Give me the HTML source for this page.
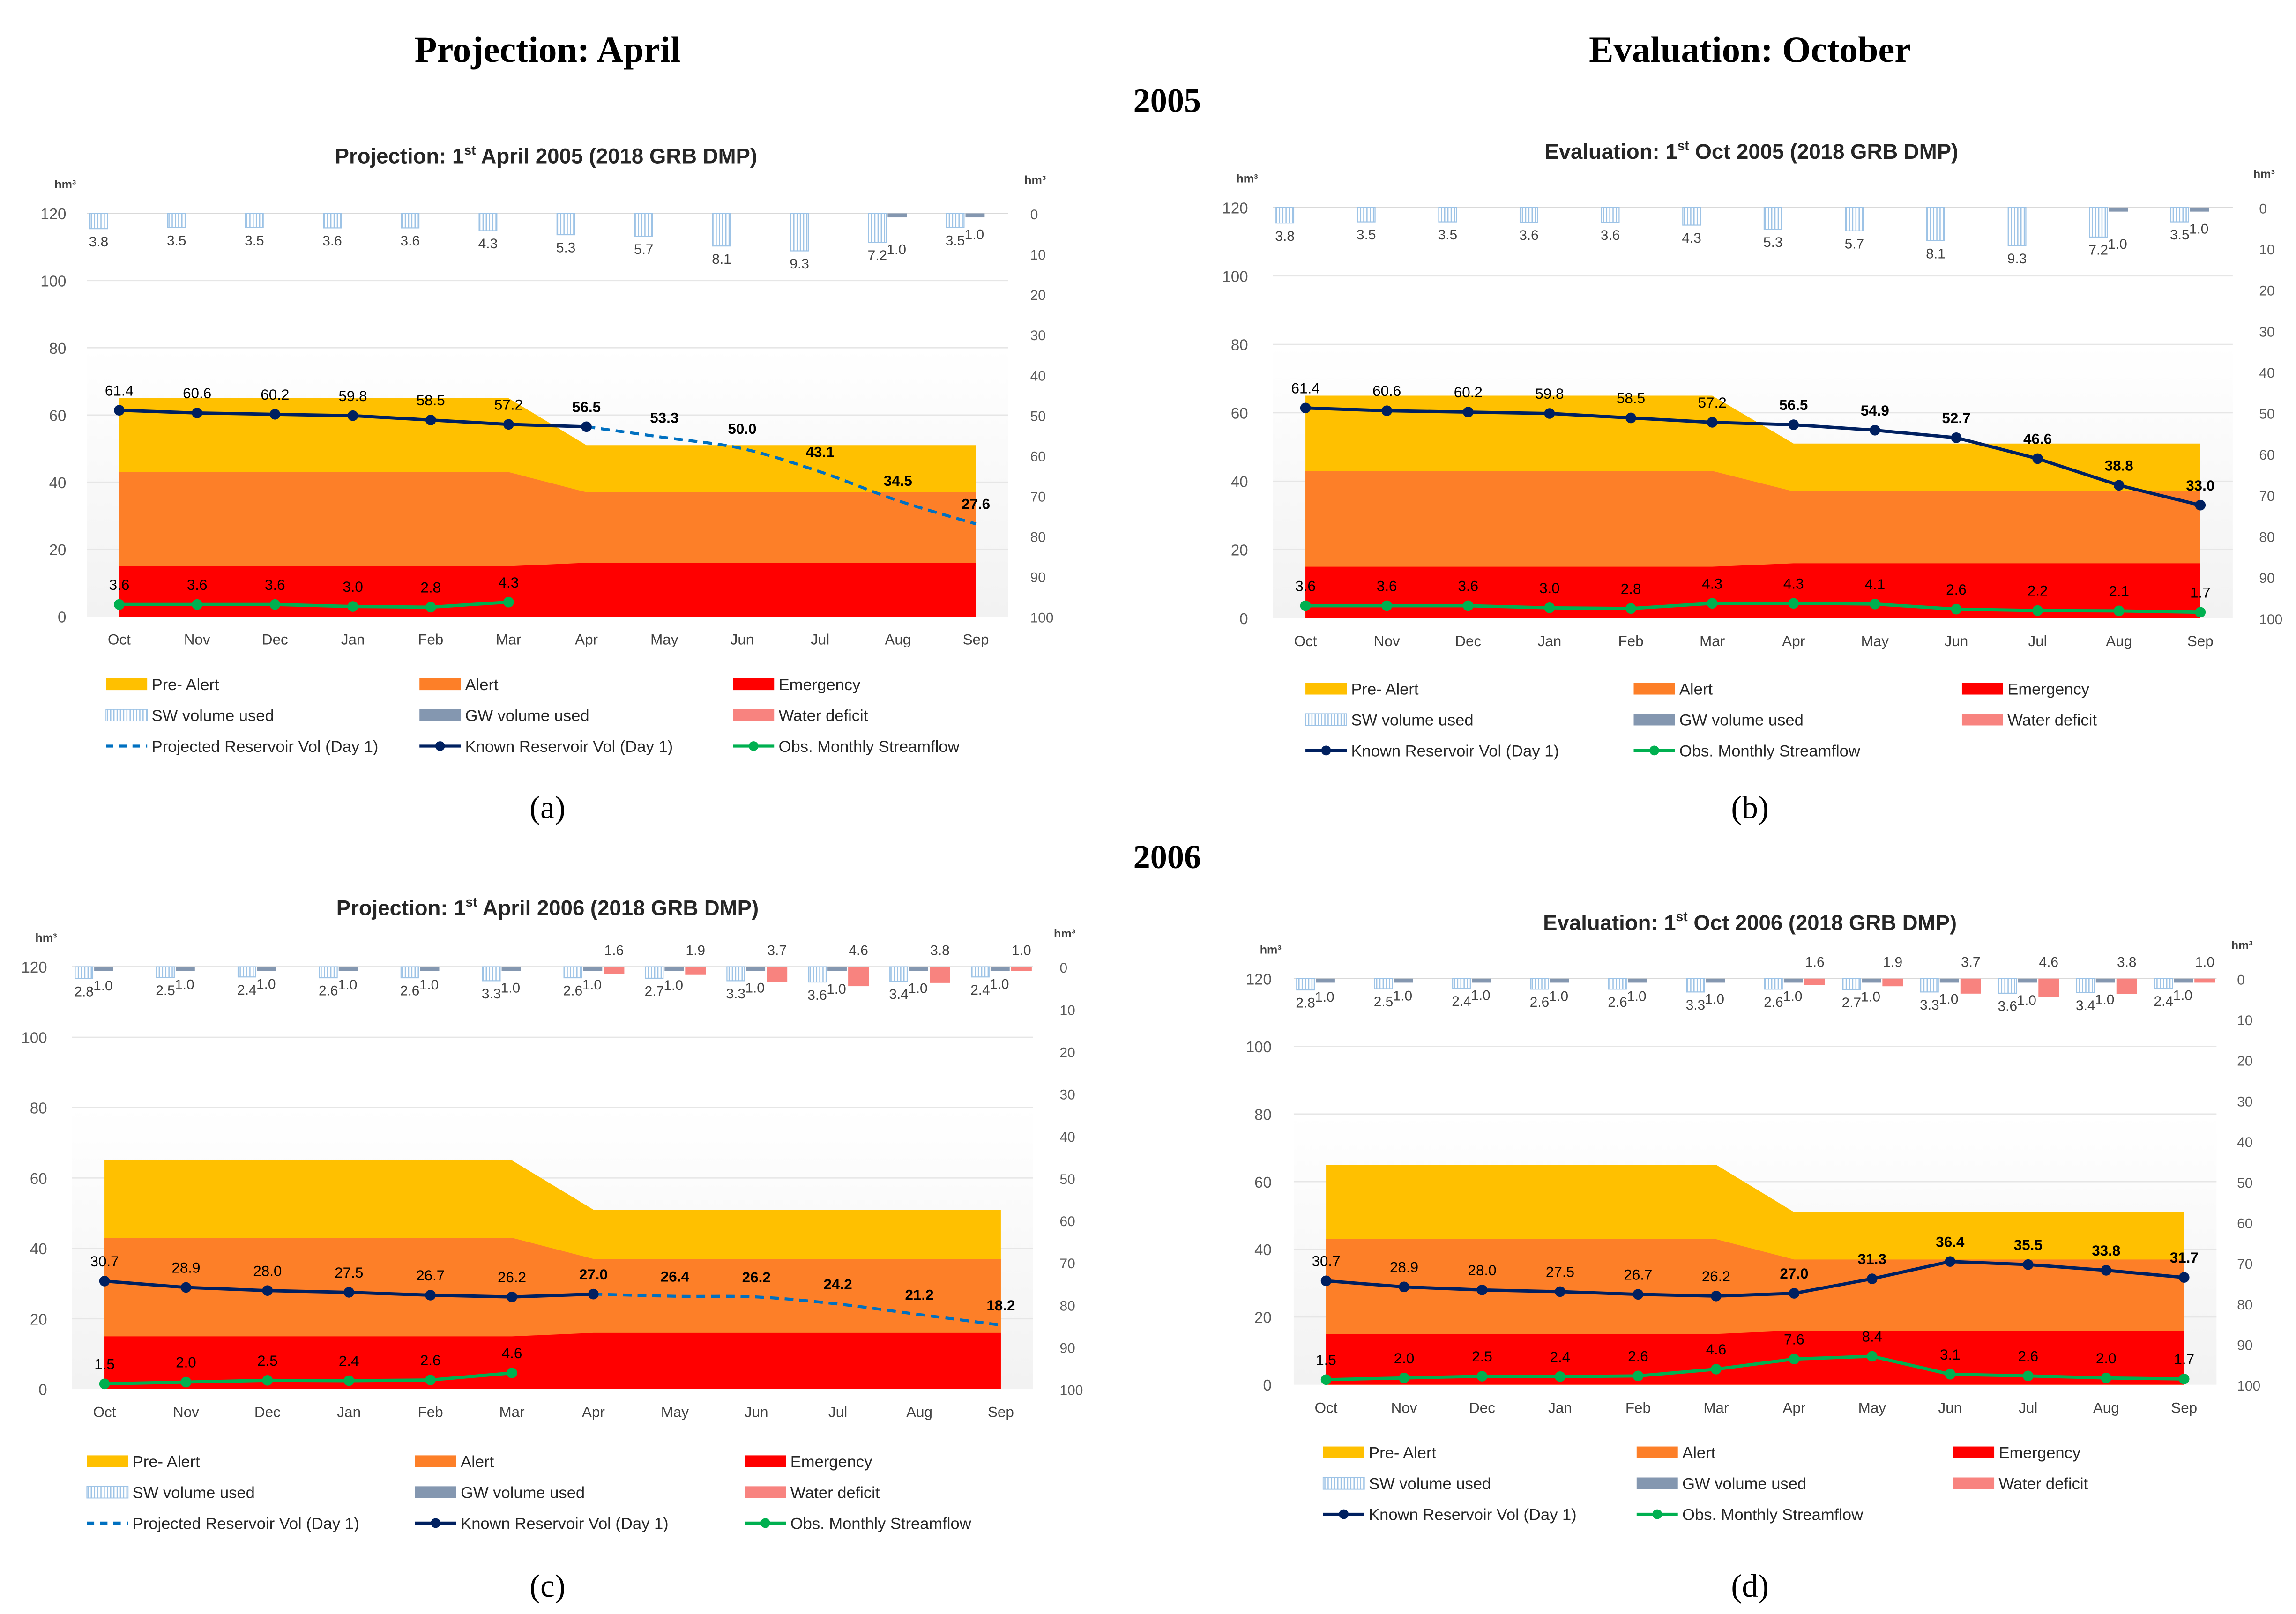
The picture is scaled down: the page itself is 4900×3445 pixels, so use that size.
<!DOCTYPE html>
<html><head><meta charset="utf-8">
<style>
html,body{margin:0;padding:0;background:#fff;}
svg{display:block;}
text{font-family:"Liberation Sans","DejaVu Sans",sans-serif;}
.serif{font-family:"Liberation Serif",serif;}
</style></head>
<body>
<svg id="fig" xmlns="http://www.w3.org/2000/svg" width="4900" height="3445" viewBox="0 0 1560 1096.8">
<defs>
<pattern id="hatch" width="2.2" height="4" patternUnits="userSpaceOnUse">
<rect width="2.2" height="4" fill="#ffffff"/><rect width="0.8" height="4" fill="#9dc3e6"/>
</pattern>
<linearGradient id="bg" x1="0" y1="0" x2="0" y2="1"><stop offset="0" stop-color="#ffffff"/><stop offset="1" stop-color="#f2f2f2"/></linearGradient>
</defs>
<text class="serif" x="372" y="42" font-size="25" font-weight="bold" text-anchor="middle">Projection: April</text>
<text class="serif" x="1189" y="42" font-size="25" font-weight="bold" text-anchor="middle">Evaluation: October</text>
<text class="serif" x="793" y="76" font-size="23" font-weight="bold" text-anchor="middle">2005</text>
<text class="serif" x="793" y="590" font-size="23" font-weight="bold" text-anchor="middle">2006</text>
<text class="serif" x="372" y="556" font-size="22" text-anchor="middle">(a)</text>
<text class="serif" x="1189" y="556" font-size="22" text-anchor="middle">(b)</text>
<text class="serif" x="372" y="1085" font-size="22" text-anchor="middle">(c)</text>
<text class="serif" x="1189" y="1085" font-size="22" text-anchor="middle">(d)</text>
</svg>
<script>
const months = ["Oct","Nov","Dec","Jan","Feb","Mar","Apr","May","Jun","Jul","Aug","Sep"];
const preAlert = [65,65,65,65,65,65,51,51,51,51,51,51];
const alertLvl = [43,43,43,43,43,43,37,37,37,37,37,37];
const emergency = [15,15,15,15,15,15,16,16,16,16,16,16];
const leftTicks = [0,20,40,60,80,100,120];
const rightTicks = [0,10,20,30,40,50,60,70,80,90,100];

const swA = [3.8,3.5,3.5,3.6,3.6,4.3,5.3,5.7,8.1,9.3,7.2,3.5];
const gwA = [null,null,null,null,null,null,null,null,null,null,1.0,1.0];
const defA = [null,null,null,null,null,null,null,null,null,null,null,null];
const knownA = [61.4,60.6,60.2,59.8,58.5,57.2,56.5,null,null,null,null,null];
const projA = [null,null,null,null,null,null,56.5,53.3,50.0,43.1,34.5,27.6];
const flowA = [3.6,3.6,3.6,3.0,2.8,4.3,null,null,null,null,null,null];

const knownB = [61.4,60.6,60.2,59.8,58.5,57.2,56.5,54.9,52.7,46.6,38.8,33.0];
const flowB = [3.6,3.6,3.6,3.0,2.8,4.3,4.3,4.1,2.6,2.2,2.1,1.7];

const swC = [2.8,2.5,2.4,2.6,2.6,3.3,2.6,2.7,3.3,3.6,3.4,2.4];
const gwC = [1.0,1.0,1.0,1.0,1.0,1.0,1.0,1.0,1.0,1.0,1.0,1.0];
const defC = [null,null,null,null,null,null,1.6,1.9,3.7,4.6,3.8,1.0];
const knownC = [30.7,28.9,28.0,27.5,26.7,26.2,27.0,null,null,null,null,null];
const projC = [null,null,null,null,null,null,27.0,26.4,26.2,24.2,21.2,18.2];
const flowC = [1.5,2.0,2.5,2.4,2.6,4.6,null,null,null,null,null,null];

const knownD = [30.7,28.9,28.0,27.5,26.7,26.2,27.0,31.3,36.4,35.5,33.8,31.7];
const flowD = [1.5,2.0,2.5,2.4,2.6,4.6,7.6,8.4,3.1,2.6,2.0,1.7];

const NS="http://www.w3.org/2000/svg";
const svg=document.getElementById('fig');
function mk(tag,attrs,parent,txt){const e=document.createElementNS(NS,tag);for(const k in attrs)e.setAttribute(k,attrs[k]);if(txt!==undefined)e.textContent=txt;(parent||svg).appendChild(e);return e;}
function smooth(pts){let d="M"+pts[0][0]+","+pts[0][1];for(let i=0;i<pts.length-1;i++){const p0=pts[Math.max(0,i-1)],p1=pts[i],p2=pts[i+1],p3=pts[Math.min(pts.length-1,i+2)];const c1=[p1[0]+(p2[0]-p0[0])/6,p1[1]+(p2[1]-p0[1])/6],c2=[p2[0]-(p3[0]-p1[0])/6,p2[1]-(p3[1]-p1[1])/6];d+=" C"+c1+" "+c2+" "+p2;}return d;}

function panel(c){
  const g=mk('g',{});
  
  
  const X=i=>c.x0+i*(c.x1-c.x0)/11;
  const Y=v=>c.y0-v*(c.y0-c.ytop)/120;
  const R=v=>c.ytop+v*(c.y0-c.ytop)/100;
  const bgr=mk('rect',{x:c.x0-22,y:Y(80),width:c.x1-c.x0+44,height:Y(0)-Y(80),fill:"url(#bg)"},g);
  
  leftTicks.forEach(t=>{
    if(t>0){const gl=mk('line',{x1:c.x0-22,x2:c.x1+22,y1:Y(t),y2:Y(t),stroke:"#e6e6e6","stroke-width":0.8},g);
    }
    const tl=mk('text',{x:c.x0-c.lOff,y:Y(t)+4,"font-size":10.5,"text-anchor":"end",fill:"#595959"},g,String(t));
    
  });
  rightTicks.forEach(t=>{
    const tr=mk('text',{x:c.x1+c.rOff,y:R(t)+4,"font-size":9.5,"text-anchor":"start",fill:"#595959"},g,String(t));
    
  });
  const hl=mk('text',{x:c.x0-c.lOff-8,y:c.ytop-17,"font-size":8,"font-weight":"bold",fill:"#404040"},g,"hm³");
  
  const hr=mk('text',{x:c.x1+c.rOff-4,y:c.ytop-20,"font-size":8,"font-weight":"bold",fill:"#404040"},g,"hm³");
  
  function area(arr,col,nm){let d="M"+X(0)+","+Y(0);arr.forEach((v,i)=>d+=" L"+X(i)+","+Y(v));d+=" L"+X(11)+","+Y(0)+"Z";const p=mk('path',{d:d,fill:col},g);}
  area(preAlert,"#ffc000","pre-alert-area");area(alertLvl,"#fd7f28","alert-area");area(emergency,"#ff0000","emergency-area");
  months.forEach((m,i)=>{const t=mk('text',{x:X(i),y:c.y0+19,"font-size":10,"text-anchor":"middle",fill:"#404040"},g,m);});
  const base=mk('line',{x1:c.x0-22,x2:c.x1+22,y1:R(0),y2:R(0),stroke:"#d9d9d9","stroke-width":0.8},g);
  
  months.forEach((m,i)=>{
    const cx=X(i);
    if(c.sw[i]!=null){const b=mk('rect',{x:cx-20,y:R(0),width:12,height:R(c.sw[i])-R(0),fill:"url(#hatch)",stroke:"#9dc3e6","stroke-width":0.7},g);
      const t=mk('text',{x:cx-14,y:R(c.sw[i])+12,"font-size":9.5,"text-anchor":"middle",fill:"#404040"},g,c.sw[i].toFixed(1));}
    if(c.gw[i]!=null){const b=mk('rect',{x:cx-7,y:R(0),width:13,height:R(c.gw[i])-R(0),fill:"#8497b0"},g);
      const t=mk('text',{x:cx-1,y:R(c.sw[i])+8,"font-size":9.5,"text-anchor":"middle",fill:"#404040"},g,c.gw[i].toFixed(1));}
    if(c.def[i]!=null){const b=mk('rect',{x:cx+7,y:R(0),width:14,height:R(c.def[i])-R(0),fill:"#f8837f"},g);
      const t=mk('text',{x:cx+14,y:R(0)-8,"font-size":9.5,"text-anchor":"middle",fill:"#404040"},g,c.def[i].toFixed(1));}
  });
  if(c.proj){const pts=[];c.proj.forEach((v,i)=>{if(v!=null)pts.push([X(i),Y(v)]);});
    const p=mk('path',{d:smooth(pts),fill:"none",stroke:"#0070c0","stroke-width":2,"stroke-dasharray":"6,4"},g);
    c.proj.forEach((v,i)=>{if(v!=null&&c.known[i]==null){const t=mk('text',{x:X(i),y:Y(v)-10,"font-size":10,"font-weight":"bold","text-anchor":"middle",fill:"#000"},g,v.toFixed(1));}});}
  function series(arr,col,nm,bold){const pts=[];arr.forEach((v,i)=>{if(v!=null)pts.push([X(i),Y(v)]);});
    const l=mk('polyline',{points:pts.map(p=>p.join(",")).join(" "),fill:"none",stroke:col,"stroke-width":2.2},g);
    arr.forEach((v,i)=>{if(v==null)return;const d=mk('circle',{cx:X(i),cy:Y(v),r:3.6,fill:col},g);
      const t=mk('text',{x:X(i),y:Y(v)-10,"font-size":10,"font-weight":(bold&&i>=6)?"bold":"normal","text-anchor":"middle",fill:"#000"},g,v.toFixed(1));});}
  series(c.known,"#002060","known-reservoir",true);
  series(c.flow,"#00b050","streamflow",false);
  const tt=mk('text',{x:c.tx,y:c.ty,"font-size":14.5,"font-weight":"bold","text-anchor":"middle",fill:"#262626"},g);
  
  mk('tspan',{},tt,c.title[0]);mk('tspan',{"font-size":9,dy:-6},tt,"st");mk('tspan',{dy:6},tt," "+c.title[1]);
  const items=[["Pre- Alert","fill","#ffc000"],["Alert","fill","#fd7f28"],["Emergency","fill","#ff0000"],["SW volume used","hatch"],["GW volume used","fill","#8497b0"],["Water deficit","fill","#f8837f"]];
  if(c.proj)items.push(["Projected Reservoir Vol (Day 1)","dash","#0070c0"]);
  items.push(["Known Reservoir Vol (Day 1)","line","#002060"],["Obs. Monthly Streamflow","line","#00b050"]);
  items.forEach((it,k)=>{const col=k%3,row=Math.floor(k/3);const lx=c.lx[col],ly=c.ly+row*21;
    const lg=mk('g',{},g);
    if(it[1]=="fill")mk('rect',{x:lx,y:ly-4,width:28,height:8,fill:it[2]},lg);
    else if(it[1]=="hatch")mk('rect',{x:lx,y:ly-4,width:28,height:8,fill:"url(#hatch)",stroke:"#9dc3e6","stroke-width":0.6},lg);
    else if(it[1]=="dash")mk('line',{x1:lx,x2:lx+28,y1:ly,y2:ly,stroke:it[2],"stroke-width":2,"stroke-dasharray":"5,4"},lg);
    else {mk('line',{x1:lx,x2:lx+28,y1:ly,y2:ly,stroke:it[2],"stroke-width":2},lg);mk('circle',{cx:lx+14,cy:ly,r:3.3,fill:it[2]},lg);}
    mk('text',{x:lx+31,y:ly+4,"font-size":11,fill:"#262626"},lg,it[0]);});
}
panel({name:"chart-a",x0:81,x1:663,y0:419,ytop:145,lOff:36,rOff:37,sw:swA,gw:gwA,def:defA,known:knownA,proj:projA,flow:flowA,title:["Projection: 1","April 2005 (2018 GRB DMP)"],tx:371,ty:111,lx:[72,285,498],ly:465});
panel({name:"chart-b",x0:887,x1:1495,y0:420,ytop:141,lOff:39,rOff:40,sw:swA,gw:gwA,def:defA,known:knownB,proj:null,flow:flowB,title:["Evaluation: 1","Oct 2005 (2018 GRB DMP)"],tx:1190,ty:108,lx:[887,1110,1333],ly:468});
panel({name:"chart-c",x0:71,x1:680,y0:944,ytop:657,lOff:39,rOff:40,sw:swC,gw:gwC,def:defC,known:knownC,proj:projC,flow:flowC,title:["Projection: 1","April 2006 (2018 GRB DMP)"],tx:372,ty:622,lx:[59,282,506],ly:993});
panel({name:"chart-d",x0:901,x1:1484,y0:941,ytop:665,lOff:37,rOff:36,sw:swC,gw:gwC,def:defC,known:knownD,proj:null,flow:flowD,title:["Evaluation: 1","Oct 2006 (2018 GRB DMP)"],tx:1189,ty:632,lx:[899,1112,1327],ly:987});
</script>
</body></html>
